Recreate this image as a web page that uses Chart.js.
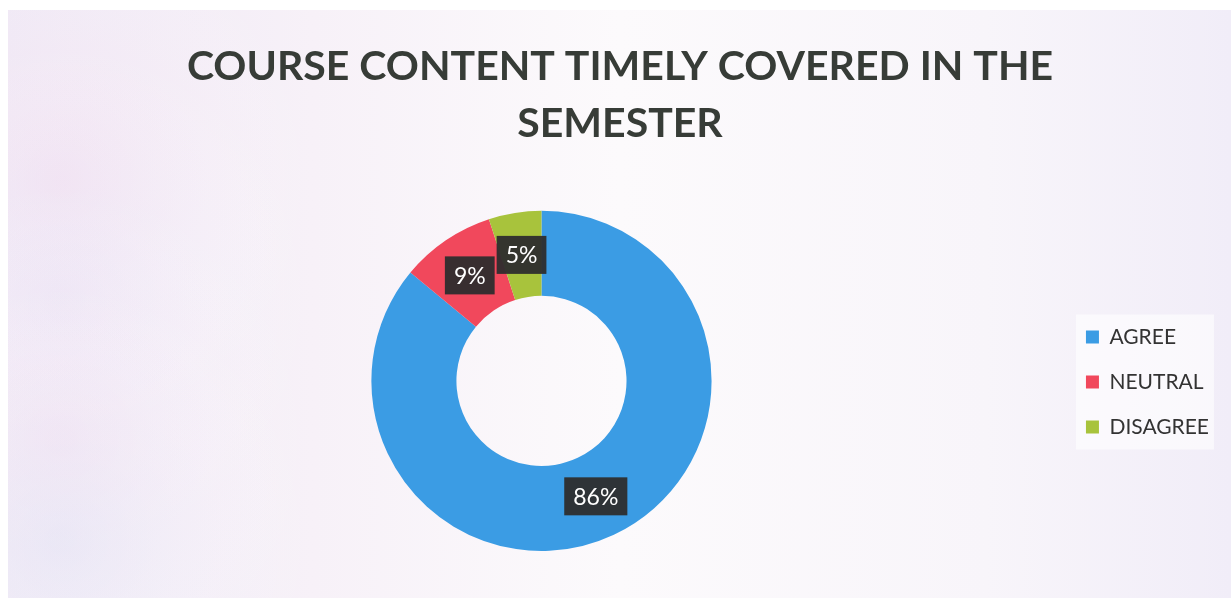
<!DOCTYPE html>
<html lang="en">
<head>
    <meta charset="UTF-8">
    <title>Course Content Timely Covered in the Semester</title>
    <script src="https://cdn.jsdelivr.net/npm/chart.js"></script>
    <style>
        html, body {
            margin: 0;
            padding: 0;
            background-color: #ffffff;
        }
        #chart-container {
            width: 1231px;
            height: 605px;
        }
    </style>
</head>
<body>
    <div id="chart-container">
        <canvas id="donutChart"></canvas>
    </div>

    <script>
        // Chart data
        const categories = ['AGREE', 'NEUTRAL', 'DISAGREE'];
        const percentages = [86, 9, 5];
        const sliceColors = ['#3b9ce4', '#f1485c', '#a8c33c'];
        const titleLines = ['COURSE CONTENT TIMELY COVERED IN THE', 'SEMESTER'];

        // Paper-like background with a soft lavender/pink tint
        const paperBackground = {
            id: 'paperBackground',
            beforeDraw(chart) {
                const ctx = chart.ctx;
                const w = chart.width, h = chart.height;
                ctx.save();
                ctx.fillStyle = '#ffffff';
                ctx.fillRect(0, 0, w, h);

                const grad = ctx.createLinearGradient(8, 0, w, 0);
                grad.addColorStop(0, '#efe8f5');
                grad.addColorStop(0.25, '#f7f1f8');
                grad.addColorStop(0.5, '#fcfafc');
                grad.addColorStop(0.8, '#f8f5fa');
                grad.addColorStop(1, '#f1edf8');
                ctx.fillStyle = grad;
                ctx.fillRect(8, 10, w - 8, h - 17);

                // faint pink bands on the left
                const bands = [[180, 'rgba(242,214,236,0.45)'], [300, 'rgba(230,226,246,0.45)'], [440, 'rgba(242,214,236,0.40)'], [540, 'rgba(226,230,246,0.45)']];
                bands.forEach(([y, c]) => {
                    const g = ctx.createRadialGradient(60, y, 5, 60, y, 260);
                    g.addColorStop(0, c);
                    g.addColorStop(1, 'rgba(255,255,255,0)');
                    ctx.fillStyle = g;
                    ctx.fillRect(8, 10, 420, h - 17);
                });

                // whiter panel behind legend
                const lg = chart.legend;
                if (lg && lg.legendHitBoxes && lg.legendHitBoxes.length) {
                    const boxes = lg.legendHitBoxes;
                    const top = boxes[0].top - 12;
                    const last = boxes[boxes.length - 1];
                    const bottom = last.top + last.height + 12;
                    ctx.fillStyle = 'rgba(255,255,255,0.6)';
                    ctx.fillRect(boxes[0].left - 10, top, 138, bottom - top);
                }
                ctx.restore();
            }
        };

        // Dark boxed percentage labels on each slice
        const boxedLabels = {
            id: 'boxedLabels',
            afterDatasetsDraw(chart) {
                const ctx = chart.ctx;
                const meta = chart.getDatasetMeta(0);
                ctx.save();
                ctx.font = '23px Lato, "Open Sans", sans-serif';
                ctx.textAlign = 'center';
                ctx.textBaseline = 'middle';
                meta.data.forEach((arc, i) => {
                    const pos = arc.tooltipPosition();
                    const text = percentages[i] + '%';
                    const tw = ctx.measureText(text).width;
                    const bw = tw + 18, bh = 38;
                    ctx.fillStyle = 'rgba(45,45,45,0.95)';
                    ctx.fillRect(pos.x - bw / 2, pos.y - bh / 2, bw, bh);
                    ctx.fillStyle = '#ffffff';
                    ctx.fillText(text, pos.x, pos.y + 1);
                });
                ctx.restore();
            }
        };

        const ctx = document.getElementById('donutChart').getContext('2d');
        const donutChart = new Chart(ctx, {
            type: 'doughnut',
            data: {
                labels: categories,
                datasets: [{
                    data: percentages,
                    backgroundColor: sliceColors,
                    borderWidth: 0
                }]
            },
            options: {
                responsive: true,
                maintainAspectRatio: false,
                animation: false,
                cutout: '50%',
                layout: {
                    padding: { top: 0, bottom: 54, left: 21, right: 12 }
                },
                plugins: {
                    title: {
                        display: true,
                        text: titleLines,
                        color: '#373c37',
                        font: { family: 'Lato, "Open Sans", sans-serif', size: 41, weight: 'bold', lineHeight: 1.4 },
                        padding: { top: 38, bottom: 58 }
                    },
                    legend: {
                        display: true,
                        position: 'right',
                        title: {
                            display: true,
                            text: ' ',
                            font: { size: 10 },
                            padding: { top: 100, bottom: 101 }
                        },
                        labels: {
                            color: '#333333',
                            font: { family: 'Lato, "Open Sans", sans-serif', size: 21 },
                            boxWidth: 13,
                            boxHeight: 13,
                            padding: 24
                        }
                    },
                    tooltip: { enabled: false }
                }
            },
            plugins: [paperBackground, boxedLabels]
        });
    </script>
</body>
</html>
